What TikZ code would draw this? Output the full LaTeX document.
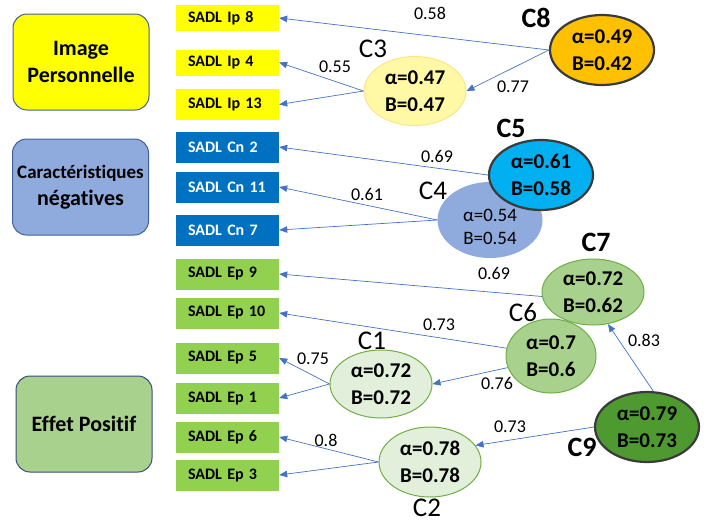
\documentclass[tikz,border=0pt]{standalone}
\usepackage{fontspec}
\setmainfont{Carlito}[Ligatures=NoCommon]
\usetikzlibrary{arrows.meta,shapes.geometric}
\definecolor{ipyellow}{HTML}{FFFF00}
\definecolor{catblue}{HTML}{8FAADC}
\definecolor{catgreen}{HTML}{A9D18E}
\definecolor{catline}{HTML}{41609A}
\definecolor{cnblue}{HTML}{0070C0}
\definecolor{epgreen}{HTML}{92D050}
\definecolor{linkblue}{HTML}{4472C4}
\definecolor{orangeC}{HTML}{FFC000}
\definecolor{paleyellow}{HTML}{FFF9A6}
\definecolor{paleline}{HTML}{FFE38A}
\definecolor{cyanC}{HTML}{00B0F0}
\definecolor{lightgreen}{HTML}{E2EFDA}
\definecolor{greenline}{HTML}{70AD47}
\definecolor{darkgreen}{HTML}{4E9A30}
\definecolor{darkline}{HTML}{3A3A3A}
\begin{document}
\begin{tikzpicture}[x=1pt,y=-1pt,
    catbox/.style={draw=catline, line width=1pt, rounded corners=14pt, minimum width=136pt,
      minimum height=96pt, align=center, font=\bfseries\fontsize{22}{27}\selectfont},
    item/.style={minimum height=31pt, text width=79pt, inner xsep=12pt, inner ysep=0pt,
      align=left, font=\bfseries\fontsize{16}{19}\selectfont},
    ipitem/.style={item, fill=ipyellow},
    cnitem/.style={item, fill=cnblue, text=white},
    epitem/.style={item, fill=epgreen},
    clu/.style={ellipse, inner sep=0pt, align=center, font=\bfseries\fontsize{21}{27}\selectfont},
    strong/.style={draw=darkline, line width=2.2pt},
    soft/.style={draw=greenline, line width=1pt},
    clab/.style={font=\fontsize{27}{27}\selectfont},
    bclab/.style={font=\bfseries\fontsize{28}{28}\selectfont},
    w/.style={font=\fontsize{18}{18}\selectfont},
    link/.style={draw=linkblue, line width=0.7pt, -{Triangle[length=8pt,width=6.5pt]}},
  ]
  \useasboundingbox (0,0) rectangle (708,523);

  % categories
  \node[catbox, fill=ipyellow] (ip) at (81,62) {Image\\Personnelle};
  \node[catbox, fill=catblue] (cn) at (80.5,187)
    {{\fontsize{19}{24}\selectfont Caractéristiques}\\négatives};
  \node[catbox, fill=catgreen, draw=catline!80!black] (ep) at (84,424) {Effet Positif};

  % items
  \node[ipitem, minimum height=26pt] (ip8) at (227.5,18) {SADL Ip 8};
  \node[ipitem, minimum height=26pt] (ip4) at (227.5,62.5) {SADL Ip 4};
  \node[ipitem] (ip13) at (227.5,104.5) {SADL Ip 13};
  \node[cnitem] (cn2) at (227.5,147) {SADL Cn 2};
  \node[cnitem] (cn11) at (227.5,187) {SADL Cn 11};
  \node[cnitem] (cn7) at (227.5,230) {SADL Cn 7};
  \node[epitem] (ep9) at (227.5,274) {SADL Ep 9};
  \node[epitem] (ep10) at (227.5,313) {SADL Ep 10};
  \node[epitem] (ep5) at (227.5,358) {SADL Ep 5};
  \node[epitem] (ep1) at (227.5,398) {SADL Ep 1};
  \node[epitem] (ep6) at (227.5,437) {SADL Ep 6};
  \node[epitem] (ep3) at (227.5,475) {SADL Ep 3};

  % clusters
  \node[clu, strong, fill=orangeC, minimum width=104pt, minimum height=70pt] (c8) at (602,50)
    {α=0.49\\B=0.42};
  \node[clu, draw=paleline, line width=1pt, fill=paleyellow, minimum width=102pt, minimum height=69pt]
    (c3) at (415,91) {α=0.47\\B=0.47};
  \node[clu, fill=catblue, minimum width=105pt, minimum height=76pt] (c4) at (490,220) {};
  \node[align=center, font=\fontsize{19}{23}\selectfont] (c4txt) at (490,227) {α=0.54\\B=0.54};
  \node[clu, strong, fill=cyanC, minimum width=104pt, minimum height=70pt] (c5) at (541,175)
    {α=0.61\\B=0.58};
  \node[clu, soft, fill=catgreen, minimum width=102pt, minimum height=66pt] (c7) at (593,292)
    {α=0.72\\B=0.62};
  \node[clu, soft, fill=catgreen, minimum width=90pt, minimum height=74pt] (c6) at (551,356)
    {α=0.7\\B=0.6};
  \node[clu, soft, fill=lightgreen, minimum width=102pt, minimum height=68pt] (c1) at (381,384)
    {α=0.72\\B=0.72};
  \node[clu, strong, fill=darkgreen, minimum width=104pt, minimum height=70pt] (c9) at (647,427)
    {α=0.79\\B=0.73};
  \node[clu, soft, fill=lightgreen, minimum width=102pt, minimum height=70pt] (c2) at (430,462)
    {α=0.78\\B=0.78};

  % cluster names
  \node[bclab] (c8lab) at (536,18) {C8};
  \node[clab] (c3lab) at (373,49) {C3};
  \node[bclab] (c5lab) at (511,128) {C5};
  \node[clab] (c4lab) at (433,191) {C4};
  \node[bclab] (c7lab) at (596,242) {C7};
  \node[clab] (c6lab) at (523,312) {C6};
  \node[clab] (c1lab) at (372,341) {C1};
  \node[bclab] (c9lab) at (582,447) {C9};
  \node[clab] (c2lab) at (427,508) {C2};

  % links
  \draw[link] (c8.west) -- (ip8.east);
  \draw[link] (c8.west) -- (c3.east);
  \draw[link] (c3.west) -- (ip4.east);
  \draw[link] (c3.west) -- (ip13.east);
  \draw[link] (c5.west) -- (cn2.east);
  \draw[link] (c4.west) -- (cn11.east);
  \draw[link] (c4.west) -- (cn7.east);
  \draw[link] (c7.185) -- (ep9.east);
  \draw[link] (c6.170) -- (ep10.east);
  \draw[link] (c6.195) -- (c1.east);
  \draw[link] (c1.west) -- (ep5.east);
  \draw[link] (c1.west) -- (ep1.east);
  \draw[link] (c9.80) -- (c7.-65);
  \draw[link] (c9.west) -- (c2.20);
  \draw[link] (c2.west) -- (ep6.east);
  \draw[link] (c2.west) -- (ep3.east);

  % weights
  \node[w] at (430,13) {0.58};
  \node[w] at (513,87) {0.77};
  \node[w] at (335,67) {0.55};
  \node[w] at (437,156) {0.69};
  \node[w] at (367,194) {0.61};
  \node[w] at (494,273) {0.69};
  \node[w] at (439,325) {0.73};
  \node[w] at (497,383) {0.76};
  \node[w] at (313,359) {0.75};
  \node[w] at (644,340) {0.83};
  \node[w] at (510,427) {0.73};
  \node[w] at (326,440) {0.8};
\end{tikzpicture}
\end{document}
